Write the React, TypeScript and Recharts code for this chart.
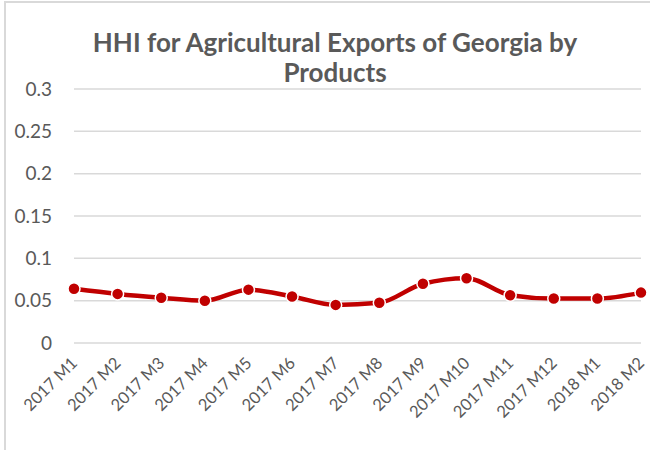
import React from "react";
import { LineChart, Line, XAxis, YAxis, CartesianGrid } from "recharts";

const months = [
  "2017 M1", "2017 M2", "2017 M3", "2017 M4", "2017 M5", "2017 M6", "2017 M7",
  "2017 M8", "2017 M9", "2017 M10", "2017 M11", "2017 M12", "2018 M1", "2018 M2",
];
const hhi = [
  0.064, 0.058, 0.0535, 0.05, 0.063, 0.055, 0.045,
  0.0475, 0.07, 0.0765, 0.0565, 0.0525, 0.0525, 0.0595,
];
const yTicks = [0, 0.05, 0.1, 0.15, 0.2, 0.25, 0.3];

const data = months.map((m, i) => ({ month: m, hhi: hhi[i] }));

const FONT = "Lato, 'Open Sans', sans-serif";
const TEXT = "#595959";

function MonthTick({ x, y, payload }: any) {
  return (
    <g transform={`translate(${x},${y + 9})`}>
      <text
        transform="rotate(-45)"
        textAnchor="end"
        dy={6}
        fontSize={16.5}
        fontFamily={FONT}
        fill={TEXT}
      >
        {payload.value}
      </text>
    </g>
  );
}

export default function App() {
  return (
    <div style={{ position: "absolute", left: 0, top: 0, width: 650, height: 450, background: "#fff", overflow: "hidden" }}>
      <div
        style={{
          position: "absolute",
          left: 4,
          top: 1,
          width: 660,
          height: 460,
          borderLeft: "2px solid #d9d9d9",
          borderTop: "2px solid #d9d9d9",
        }}
      />
      <div
        style={{
          position: "absolute",
          left: 0,
          top: 27,
          width: 670,
          textAlign: "center",
          fontFamily: FONT,
          fontWeight: 700,
          fontSize: 26,
          lineHeight: "30px",
          color: TEXT,
        }}
      >
        HHI for Agricultural Exports of Georgia by
        <br />
        Products
      </div>
      <LineChart
        width={650}
        height={450}
        data={data}
        margin={{ top: 89, right: 9, bottom: 0, left: 0 }}
        style={{ position: "absolute", left: 0, top: 0 }}
      >
        <CartesianGrid vertical={false} stroke="#d9d9d9" strokeWidth={1.5} />
        <XAxis
          dataKey="month"
          interval={0}
          height={107}
          axisLine={false}
          tickLine={false}
          tick={<MonthTick />}
        />
        <YAxis
          domain={[0, 0.3]}
          ticks={yTicks}
          width={74}
          axisLine={false}
          tickLine={false}
          tickSize={0}
          tickMargin={22}
          tick={{ fontSize: 19, fontFamily: FONT, fill: TEXT }}
        />
        <Line
          type="monotone"
          dataKey="hhi"
          stroke="#c00000"
          strokeWidth={4.5}
          dot={{ r: 6, fill: "#c00000", stroke: "#fff", strokeWidth: 1.5 }}
          isAnimationActive={false}
        />
      </LineChart>
    </div>
  );
}
